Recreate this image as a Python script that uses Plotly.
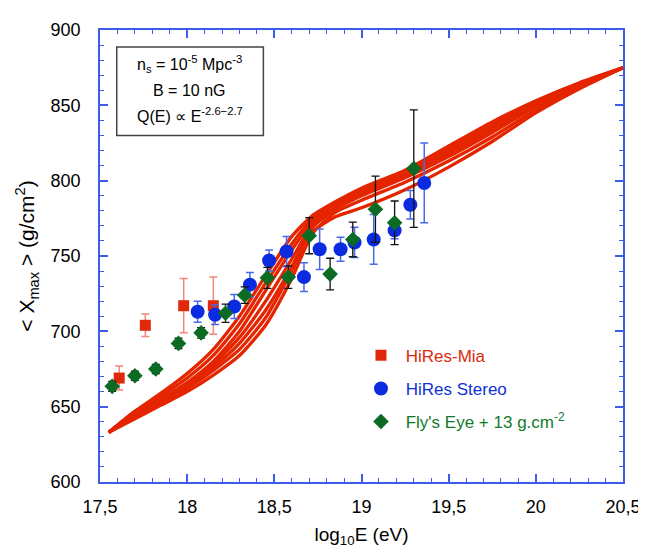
import plotly.graph_objects as go

# ---------------- data ----------------
mia_x = [17.61, 17.76, 17.98, 18.15]
mia_y = [669, 704, 717, 717]
mia_err = [8, 7.5, 18, 19]

stereo_x = [18.06, 18.16, 18.27, 18.36, 18.47, 18.57, 18.67, 18.76, 18.88, 18.96, 19.07, 19.19, 19.28, 19.36]
stereo_y = [713, 711, 716.5, 731, 747, 753, 736, 754.5, 754.5, 759, 761, 767, 784, 798.5]
stereo_err = [7, 6.5, 8, 8, 7, 10, 9.5, 13.5, 8, 10, 16.5, 5.5, 9.5, 26.5]

fly_x = [17.57, 17.70, 17.82, 17.95, 18.08, 18.22, 18.33, 18.46, 18.58, 18.70, 18.82, 18.95, 19.08, 19.19, 19.30]
fly_y = [663.5, 670.5, 675, 692, 699, 712, 724, 735.5, 736, 763.5, 738, 761, 781, 772, 808]
fly_err = [3.3, 3, 3, 3.5, 3.5, 6, 5.5, 7, 7.5, 12, 10.5, 11.5, 22, 14.5, 39]

model_x = [17.55, 17.7, 17.85, 18.0, 18.15, 18.3, 18.45, 18.6, 18.72, 18.85, 19.0, 19.25, 19.5, 19.75, 20.0, 20.25, 20.5]
model_a = [633, 647, 659, 672, 688, 710, 737, 763, 777, 786, 795, 807, 823, 839, 853, 865, 875]
model_b = [633, 646, 657, 669, 684, 705, 732, 758, 775, 785, 793, 806, 821, 837, 852, 864, 875]
model_c = [633, 645, 655, 666, 680, 700, 727, 754, 773, 784, 792, 804, 819, 835, 851, 863, 875]
model_d = [633, 644, 654, 665, 678, 696, 720, 748, 771, 783, 791, 803, 818, 834, 850, 863, 875]
model_e = [633, 643, 653, 663, 676, 692, 714, 743, 769, 781, 790, 802, 816, 832, 849, 862, 875]
model_g = [633, 643, 652, 662, 674, 688, 709, 740, 766, 776, 782, 794, 809, 826, 845, 861, 875]
model_f = [633, 642, 651, 660, 671, 684, 704, 735, 765, 779, 787, 799, 813, 829, 847, 862, 875]
models = [model_a, model_b, model_c, model_d, model_e, model_g, model_f]

x_ticks = [17.5, 18, 18.5, 19, 19.5, 20, 20.5]
x_ticktext = ["17,5", "18", "18,5", "19", "19,5", "20", "20,5"]
y_ticks = [600, 650, 700, 750, 800, 850, 900]

# ---------------- styles ----------------
RED = "#e42500"
MIA = "#e0280a"
BLUE = "#0a2be0"
GREEN = "#0b6b22"
AXIS = "#3d5ce8"
FONT = "Liberation Sans, Arial, Helvetica, sans-serif"
NB = "\u00a0"

fig = go.Figure()

for m in models:
    fig.add_trace(go.Scatter(x=model_x, y=m, mode="lines",
                             line=dict(color=RED, width=3.3, shape="spline", smoothing=0.6),
                             showlegend=False, hoverinfo="skip"))

fig.add_trace(go.Scatter(
    x=mia_x, y=mia_y, mode="markers", name=NB + "<span style='color:#e0280a'>HiRes-Mia</span>",
    marker=dict(symbol="square", size=11, color=MIA),
    error_y=dict(type="data", array=mia_err, color="#f08a7a", thickness=1.5, width=4),
    legendgroup="a"))
fig.add_trace(go.Scatter(
    x=stereo_x, y=stereo_y, mode="markers", name=NB + "<span style='color:#1030d8'>HiRes Stereo</span>",
    marker=dict(symbol="circle", size=14, color=BLUE),
    error_y=dict(type="data", array=stereo_err, color="#4a68ea", thickness=1.5, width=4),
    legendgroup="b"))
fig.add_trace(go.Scatter(
    x=fly_x, y=fly_y, mode="markers",
    name=NB + "<span style='color:#137a2a'>Fly's Eye + 13 g.cm<sup>-2</sup></span>",
    marker=dict(symbol="diamond", size=12, color=GREEN),
    error_y=dict(type="data", array=fly_err, color="#111111", thickness=1.3, width=4),
    legendgroup="c"))

# annotation box
fig.add_shape(type="rect", xref="paper", yref="paper", x0=0.032, x1=0.3124, y0=0.7667, y1=0.9624,
              line=dict(color="#444444", width=1.5), fillcolor="white", layer="above")
txt_font = dict(family=FONT, size=16, color="black")
for txt, yy in [("n<sub>s</sub> = 10<sup>-5</sup> Mpc<sup>-3</sup>", 0.925),
                ("B = 10 nG", 0.867),
                ("Q(E) \u221d E<sup>-2.6\u22122.7</sup>", 0.812)]:
    fig.add_annotation(xref="paper", yref="paper", x=0.172, y=yy, showarrow=False,
                       xanchor="center", yanchor="middle", text=txt, font=txt_font)

axis_common = dict(showline=True, linecolor=AXIS, linewidth=1.5, mirror="ticks",
                   ticks="inside", tickcolor=AXIS, ticklen=8, tickwidth=1.5,
                   showgrid=False, zeroline=False,
                   tickfont=dict(family=FONT, size=18, color="black"))

fig.update_xaxes(range=[17.5, 20.5], tickvals=x_ticks, ticktext=x_ticktext,
                 minor=dict(dtick=0.1, ticks="inside", ticklen=4, tickcolor=AXIS, tickwidth=1.2),
                 ticklabelstandoff=8,
                 title=dict(text="log<sub>10</sub>E (eV)", font=dict(family=FONT, size=19, color="black"),
                            standoff=11),
                 **axis_common)
fig.update_yaxes(range=[600, 900], tickvals=y_ticks,
                 minor=dict(dtick=10, ticks="inside", ticklen=4, tickcolor=AXIS, tickwidth=1.2),
                 ticklabelstandoff=14,
                 title=dict(text="< X<sub>max</sub> > (g/cm<sup>2</sup>)",
                            font=dict(family=FONT, size=21, color="black"), standoff=10),
                 **axis_common)

# page body has an 8px default margin: compensate so the plot area lands at x 100-623, y 22-482
fig.update_layout(
    width=646, height=550,
    margin=dict(l=92, r=31, t=14, b=76),
    plot_bgcolor="white", paper_bgcolor="white",
    font=dict(family=FONT),
    legend=dict(x=0.499, y=0.319, xanchor="left", yanchor="top",
                bgcolor="rgba(0,0,0,0)", font=dict(family=FONT, size=17),
                tracegroupgap=8, itemsizing="trace"),
)

fig.write_html("out.html")
